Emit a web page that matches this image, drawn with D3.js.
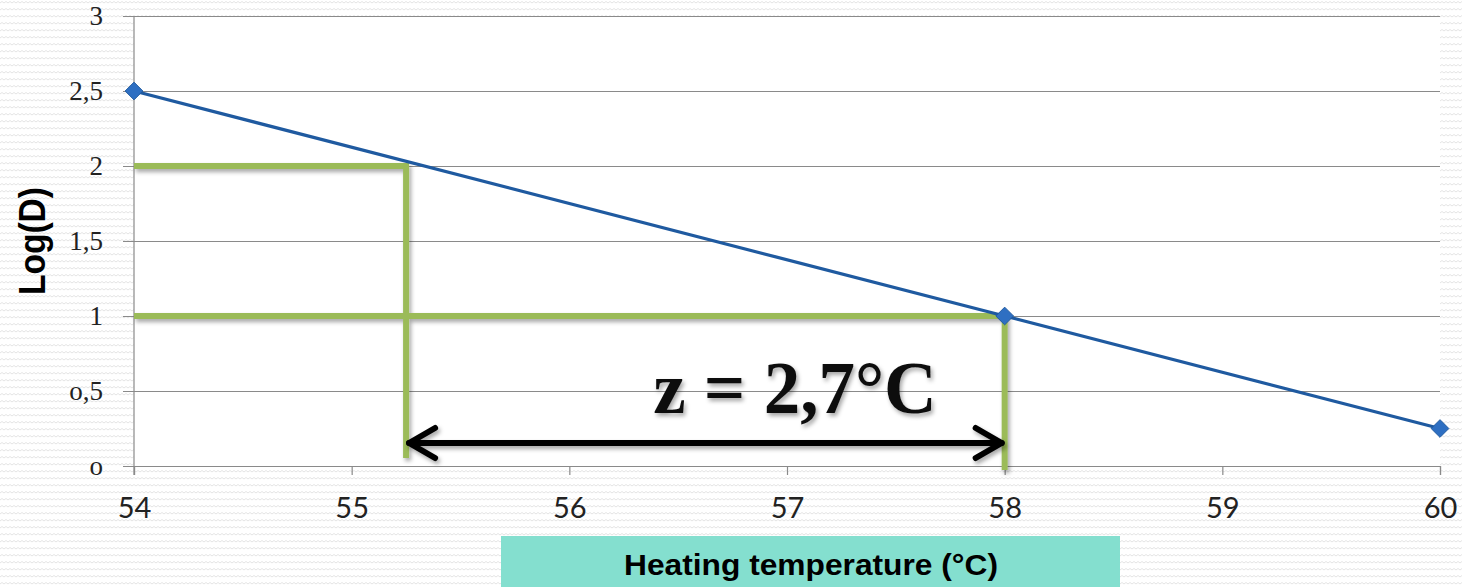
<!DOCTYPE html>
<html><head><meta charset="utf-8">
<script src="https://cdn.jsdelivr.net/npm/d3@7"></script>
<style>
html,body{margin:0;padding:0;background:#fff;}
svg{display:block;}
</style></head>
<body>
<script>
// ---- data ----
const temps = [54, 58, 60];
const logD = [2.5, 1, 0.25];
const xTicks = [54, 55, 56, 57, 58, 59, 60];
const yTicks = [0, 0.5, 1, 1.5, 2, 2.5, 3];
const yTickLabels = ["o", "o,5", "1", "1,5", "2", "2,5", "3"];
const guideLevels = [2, 1];
const guideTemps = [55.25, 58];      // corresponding temperatures
const zLabel = "z = 2,7°C";
const xTitle = "Heating temperature (°C)";
const yTitle = "Log(D)";

const W = 1462, H = 587;
const x = d3.scaleLinear().domain([54, 60]).range([134, 1440]);
const y = d3.scaleLinear().domain([0, 3]).range([466, 16]);

const svg = d3.select("body").append("svg").attr("width", W).attr("height", H);
const defs = svg.append("defs");
const pat = defs.append("pattern").attr("id", "zz").attr("patternUnits", "userSpaceOnUse")
  .attr("width", 8).attr("height", 7);
pat.append("polyline").attr("points", "0,3 2,1.5 4,3 6,1.5 8,3")
  .attr("fill", "none").attr("stroke", "#e4e4e4").attr("stroke-width", 1);
const sh = defs.append("filter").attr("id", "sh").attr("x", "-20%").attr("y", "-20%").attr("width", "140%").attr("height", "160%");
sh.append("feDropShadow").attr("dx", 2).attr("dy", 3).attr("stdDeviation", 2).attr("flood-color", "#000").attr("flood-opacity", 0.35);

svg.append("rect").attr("width", W).attr("height", H).attr("fill", "#fff");
svg.append("rect").attr("width", W).attr("height", H).attr("fill", "url(#zz)");
svg.append("rect").attr("x", x(54)).attr("y", y(3)).attr("width", x(60) - x(54)).attr("height", y(0) - y(3)).attr("fill", "#fff");

// gridlines
const yAxis = d3.axisLeft(y).tickValues(yTicks).tickSize(-(x(60) - x(54) + 11)).tickFormat((d, i) => yTickLabels[i]).tickPadding(20);
const gy = svg.append("g").attr("transform", `translate(${x(54) - 11},0)`).call(yAxis);
gy.select(".domain").remove();
gy.selectAll(".tick line").attr("stroke", "#8a8a8a").attr("stroke-width", 1.2);
gy.selectAll(".tick text").attr("font-family", "'Liberation Serif', serif").attr("font-size", 27).attr("fill", "#222").attr("dy", "0.3em");

// y axis line
svg.append("line").attr("x1", x(54)).attr("x2", x(54)).attr("y1", y(3)).attr("y2", y(0) + 9).attr("stroke", "#8a8a8a").attr("stroke-width", 1.2);

const xAxis = d3.axisBottom(x).tickValues(xTicks).tickSize(9).tickFormat(d3.format("d")).tickPadding(22);
const gx = svg.append("g").attr("transform", `translate(0,${y(0)})`).call(xAxis);
gx.select(".domain").attr("stroke", "#8a8a8a").attr("stroke-width", 1.2);
gx.selectAll(".tick line").attr("stroke", "#8a8a8a").attr("stroke-width", 1.2);
gx.selectAll(".tick text").attr("font-family", "Lato, sans-serif").attr("font-size", 29).attr("fill", "#222");

// green guide lines
const g = svg.append("g").attr("filter", "url(#sh)");
g.append("path").attr("d", `M${x(54)},${y(guideLevels[0])}H${x(guideTemps[0])}V${y(0) - 8}`)
  .attr("fill", "none").attr("stroke", "#9BBB59").attr("stroke-width", 6);
g.append("path").attr("d", `M${x(54)},${y(guideLevels[1])}H${x(guideTemps[1])}V${y(0) + 4}`)
  .attr("fill", "none").attr("stroke", "#9BBB59").attr("stroke-width", 6);

// data line
const data = temps.map((t, i) => ({ t, v: logD[i] }));
svg.append("path").datum(data).attr("fill", "none").attr("stroke", "#1F5AA0").attr("stroke-width", 3.2)
  .attr("d", d3.line().x(d => x(d.t)).y(d => y(d.v)));
svg.selectAll(".mk").data(data).join("path").attr("class", "mk")
  .attr("transform", d => `translate(${x(d.t)},${y(d.v)})`)
  .attr("d", d3.symbol(d3.symbolDiamond2 || d3.symbolDiamond, 200)())
  .attr("fill", "#2E6FC2").attr("stroke", "#1F5AA0").attr("stroke-width", 1);

// arrow
const ay = 443, ax1 = x(guideTemps[0]) + 3, ax2 = x(guideTemps[1]) - 3;
const ag = svg.append("g").attr("filter", "url(#sh)").attr("fill", "none").attr("stroke", "#000").attr("stroke-width", 6).attr("stroke-linecap", "round").attr("stroke-linejoin", "round");
ag.append("line").attr("x1", ax1).attr("x2", ax2).attr("y1", ay).attr("y2", ay);
ag.append("path").attr("d", `M${ax1 + 26},${ay - 15}L${ax1},${ay}L${ax1 + 26},${ay + 15}`);
ag.append("path").attr("d", `M${ax2 - 26},${ay - 15}L${ax2},${ay}L${ax2 - 26},${ay + 15}`);

// z label
svg.append("text").attr("x", 795).attr("y", 413).attr("text-anchor", "middle")
  .attr("font-family", "'Liberation Serif', serif").attr("font-weight", "bold").attr("font-size", 73)
  .attr("fill", "#111").attr("filter", "url(#sh)").text(zLabel);

// y title
svg.append("text").attr("transform", `translate(45,241) rotate(-90)`).attr("text-anchor", "middle")
  .attr("font-family", "'Liberation Sans', Arial, sans-serif").attr("font-weight", "bold").attr("font-size", 36)
  .attr("textLength", 108).attr("lengthAdjust", "spacingAndGlyphs")
  .attr("fill", "#000").text(yTitle);

// x title box
svg.append("rect").attr("x", 501).attr("y", 536).attr("width", 619).attr("height", 51).attr("fill", "#84DFCF");
svg.append("text").attr("x", 811).attr("y", 575).attr("text-anchor", "middle")
  .attr("font-family", "'Liberation Sans', Arial, sans-serif").attr("font-weight", "bold").attr("font-size", 29)
  .attr("textLength", 374).attr("lengthAdjust", "spacingAndGlyphs")
  .attr("fill", "#000").text(xTitle);
</script>
</body></html>
